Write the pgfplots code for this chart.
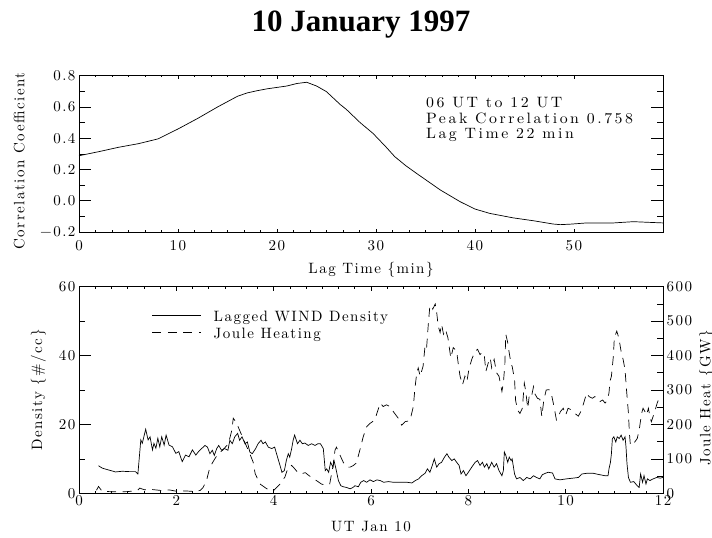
\documentclass[border=0pt]{standalone}
\usepackage{fontspec}
\usepackage{pgfplots}
\pgfplotsset{compat=1.18}
\newfontfamily\hfont{lmroman10-regular.otf}[LetterSpace=10]
\newfontfamily\hwfont{lmroman10-regular.otf}[LetterSpace=17, FakeStretch=1.055]
\newfontfamily\titlefont{Liberation Serif}
\newcommand\hf{\hfont\fontsize{15}{18}\selectfont}
\newcommand\hwf{\hwfont\fontsize{15}{18}\selectfont}

\pgfplotsset{
  idl/.style={
    scale only axis, anchor=south west,
    tick align=inside,
    axis line style={black, line width=0.8pt},
    every tick/.style={black, line width=0.6pt},
    ticklabel style={font=\hf},
    /pgf/number format/assume math mode=true,
    label style={font=\hf},
    clip=false,
  }
}

\begin{document}
\begin{tikzpicture}
\useasboundingbox (0pt,0pt) rectangle (712pt,538pt);
\node[font=\titlefont\bfseries\fontsize{31}{36}\selectfont, anchor=base] at (361pt,506pt) {10 January 1997};

% ---------------- top panel ----------------
\begin{axis}[idl,
  at={(79pt,306pt)}, width=584pt, height=156.3pt,
  xmin=0, xmax=59, ymin=-0.2, ymax=0.8,
  xtick={0,10,20,30,40,50}, minor x tick num=5,
  ytick={-0.2,0,0.2,0.4,0.6,0.8},
  yticklabels={−0.2,0.0,0.2,0.4,0.6,0.8},
  minor y tick num=1,
  xtick style={/pgfplots/major tick length=3.1pt, /pgfplots/minor tick length=1.6pt},
  ytick style={/pgfplots/major tick length=11.7pt, /pgfplots/minor tick length=5.8pt},
  xticklabel style={yshift=-5pt},
  xlabel={Lag Time \{min\}},
  xlabel style={at={(rel axis cs:0.5,-0.264)}, anchor=base},
  ylabel={Correlation Coefficient},
  ylabel style={at={(rel axis cs:-0.1024,0.454)}, anchor=center},
]
\addplot[black, line width=0.7pt] coordinates {
(0,0.288) (2,0.314) (4,0.342) (6,0.365) (8,0.396) (10,0.459) (12,0.527)
(14,0.600) (16,0.668) (17,0.690) (18,0.704) (19,0.716) (20,0.725) (21,0.734)
(22,0.750) (23,0.758) (24,0.734) (25,0.698) (26.4,0.615) (27,0.585)
(28.4,0.500) (29.7,0.431) (31,0.345) (31.9,0.282) (33,0.225) (34.1,0.175)
(36.5,0.069) (38.5,-0.006) (40,-0.053) (41.5,-0.081) (43.9,-0.110)
(45.9,-0.128) (47.9,-0.149) (48.6,-0.153) (49.6,-0.150) (51.3,-0.142)
(54,-0.142) (56,-0.134) (59,-0.142)
};
\node[font=\hwf, anchor=base west, inner sep=0pt] at (rel axis cs:0.594,0.795) {06 UT to 12 UT};
\node[font=\hwf, anchor=base west, inner sep=0pt] at (rel axis cs:0.594,0.6955) {Peak Correlation 0.758};
\node[font=\hwf, anchor=base west, inner sep=0pt] at (rel axis cs:0.594,0.5995) {Lag Time 22 min};
\end{axis}

% ---------------- bottom panel, left axis ----------------
\begin{axis}[idl,
  at={(79pt,44.7pt)}, width=584pt, height=206.6pt,
  xmin=0, xmax=12, ymin=0, ymax=60,
  xtick={0,2,4,6,8,10,12}, minor x tick num=5,
  ytick={0,20,40,60}, minor y tick num=1,
  ytick pos=left,
  xtick style={/pgfplots/major tick length=4.1pt, /pgfplots/minor tick length=2pt},
  ytick style={/pgfplots/major tick length=11.7pt, /pgfplots/minor tick length=5.8pt},
  xticklabel style={yshift=1pt},
  xlabel={UT Jan 10},
  xlabel style={at={(rel axis cs:0.5,-0.1825)}, anchor=base},
  ylabel={Density \{\#/cc\}},
  ylabel style={at={(rel axis cs:-0.0697,0.5)}, anchor=center},
]
\addplot[black, line width=0.7pt] coordinates {
(0.40,8.0) (0.48,7.3) (0.60,6.8) (0.68,6.5) (0.75,6.2) (0.89,6.4) (1.03,6.3)
(1.16,6.3) (1.21,5.6) (1.27,15.5) (1.30,14.5) (1.37,18.6) (1.42,15.5)
(1.46,16.4) (1.51,12.6) (1.54,14.5) (1.58,13.1) (1.62,16.0) (1.66,13.5)
(1.70,16.4) (1.75,14.0) (1.79,16.9) (1.85,14.0) (1.92,13.5) (1.99,11.6)
(2.05,12.1) (2.12,9.2) (2.19,11.1) (2.26,10.6) (2.33,12.6) (2.40,11.1)
(2.45,12.0) (2.52,13.0) (2.59,13.9) (2.64,13.4) (2.69,11.5) (2.74,12.5)
(2.78,11.0) (2.83,13.0) (2.87,13.9) (2.93,12.5) (2.99,13.0) (3.06,12.5)
(3.10,15.4) (3.15,14.4) (3.20,16.4) (3.26,17.4) (3.30,15.4) (3.35,16.4)
(3.41,14.4) (3.46,14.9) (3.51,12.0) (3.56,11.5) (3.63,13.0) (3.68,14.4)
(3.74,15.4) (3.78,14.4) (3.83,14.9) (3.89,13.4) (3.96,13.0) (4.02,13.4)
(4.08,10.5) (4.13,8.1) (4.17,6.1) (4.22,6.6) (4.26,9.5) (4.30,11.5)
(4.33,10.5) (4.37,13.0) (4.40,15.4) (4.43,16.9) (4.49,14.4) (4.54,15.4)
(4.59,14.4) (4.64,14.6) (4.71,13.9) (4.78,14.4) (4.85,13.9) (4.91,14.4)
(4.96,14.4) (5.02,13.0) (5.06,6.6) (5.09,7.1) (5.13,6.1) (5.17,9.0)
(5.22,7.6) (5.24,9.5) (5.28,7.1) (5.33,3.7) (5.38,2.2) (5.43,1.9)
(5.50,1.7) (5.57,1.3) (5.63,1.7) (5.67,2.2) (5.74,1.9) (5.79,3.2)
(5.85,3.7) (5.91,3.2) (5.98,3.9) (6.05,3.4) (6.12,3.9) (6.19,3.7)
(6.26,3.2) (6.36,3.4) (6.46,3.2) (6.60,3.2) (6.74,3.2) (6.84,3.0)
(6.91,3.7) (6.98,4.2) (7.04,5.1) (7.11,5.8) (7.16,7.1) (7.21,6.1)
(7.26,8.1) (7.30,10.0) (7.35,7.6) (7.40,8.6) (7.45,9.0) (7.51,10.5)
(7.56,11.5) (7.60,10.5) (7.66,9.5) (7.71,10.0) (7.76,9.0) (7.81,8.1)
(7.85,5.6) (7.90,6.6) (7.95,5.1) (8.00,6.1) (8.07,7.6) (8.14,9.0)
(8.19,9.5) (8.24,8.1) (8.29,9.0) (8.33,7.6) (8.38,8.6) (8.42,7.1)
(8.48,9.0) (8.53,7.6) (8.58,8.6) (8.63,6.6) (8.69,5.1) (8.72,6.6)
(8.74,12.0) (8.77,11.0) (8.81,9.0) (8.84,10.5) (8.88,9.5) (8.90,10.0)
(8.95,5.6) (8.99,4.2) (9.06,4.6) (9.13,3.7) (9.20,4.6) (9.27,4.2)
(9.34,5.1) (9.40,4.6) (9.47,4.2) (9.52,5.4) (9.58,5.8) (9.64,6.1)
(9.73,5.9) (9.78,4.2) (9.88,3.9) (10.02,4.2) (10.15,4.4) (10.26,4.6)
(10.33,5.6) (10.43,5.8) (10.57,5.8) (10.70,5.4) (10.81,5.1) (10.87,5.1)
(10.89,7.1) (10.92,9.0) (10.94,11.5) (10.96,15.9) (10.99,16.4) (11.03,14.9)
(11.06,16.4) (11.10,15.9) (11.14,16.9) (11.18,15.4) (11.22,16.4) (11.24,13.4)
(11.26,8.6) (11.29,4.6) (11.33,3.2) (11.40,3.4) (11.47,2.2) (11.51,1.7)
(11.54,5.6) (11.58,3.2) (11.61,5.1) (11.65,2.7) (11.68,4.2) (11.73,3.7)
(11.80,4.2) (11.87,4.6) (11.94,4.4) (12.00,4.6)
};
\end{axis}

% ---------------- bottom panel, right axis ----------------
\begin{axis}[idl,
  at={(79pt,44.7pt)}, width=584pt, height=206.6pt,
  xmin=0, xmax=12, ymin=0, ymax=600,
  axis x line=none, axis y line*=right,
  ytick={0,100,200,300,400,500,600}, minor y tick num=1,
  ytick style={/pgfplots/major tick length=11.7pt, /pgfplots/minor tick length=5.8pt},
  ylabel={Joule Heat \{GW\}},
  ylabel style={at={(rel axis cs:1.0745,0.461)}, anchor=center, rotate=0},
  legend style={at={(rel axis cs:0.125,0.8814)}, anchor=north west,
    draw=none, fill=none, inner sep=0pt, outer sep=0pt,
    column sep=12pt, row sep=0pt, font=\hf,
    nodes={inner sep=0pt, text height=10.5pt, text depth=6.1pt}},
  legend cell align=left,
  legend image code/.code={\draw[#1] (0pt,4pt) -- (49pt,4pt);},
]
\addlegendimage{black, line width=0.7pt}
\addlegendentry{Lagged WIND Density}
\addplot[black, line width=0.7pt, dash pattern=on 9pt off 6.5pt] coordinates {
(0.36,9) (0.40,20) (0.48,5) (0.60,5) (0.80,4) (1.00,5) (1.20,8) (1.25,15)
(1.35,10) (1.50,11) (1.70,8) (1.85,10) (2.00,6) (2.15,7) (2.30,6) (2.49,8)
(2.55,17) (2.62,37) (2.69,76) (2.79,100) (2.86,115) (2.95,125) (3.07,144)
(3.14,183) (3.17,218) (3.21,210) (3.24,203) (3.27,193) (3.40,150) (3.50,118)
(3.58,90) (3.62,57) (3.72,27) (3.86,13) (4.00,8) (4.13,27) (4.23,47)
(4.30,76) (4.37,81) (4.44,70) (4.51,58) (4.58,57) (4.65,60) (4.72,52)
(4.82,42) (4.90,35) (4.98,27) (5.05,24) (5.15,26) (5.22,80) (5.26,125)
(5.29,134) (5.35,115) (5.43,90) (5.50,76) (5.57,76) (5.64,81) (5.70,88)
(5.77,125) (5.84,164) (5.91,193) (5.98,203) (6.08,213) (6.12,232) (6.19,262)
(6.25,252) (6.32,257) (6.39,252) (6.46,237) (6.56,218) (6.63,198) (6.70,208)
(6.80,211) (6.87,252) (6.90,301) (6.94,350) (6.97,364) (7.01,340) (7.07,369)
(7.11,427) (7.14,418) (7.18,496) (7.21,545) (7.25,545) (7.27,535) (7.32,550)
(7.35,525) (7.38,486) (7.42,467) (7.45,491) (7.49,462) (7.53,476) (7.58,452)
(7.60,432) (7.64,393) (7.69,423) (7.76,413) (7.79,379) (7.83,340) (7.88,315)
(7.93,340) (7.97,325) (8.01,359) (8.07,389) (8.14,413) (8.19,418) (8.24,403)
(8.29,410) (8.33,398) (8.36,354) (8.41,379) (8.45,393) (8.48,364) (8.53,389)
(8.58,350) (8.63,340) (8.69,296) (8.72,320) (8.75,374) (8.77,462) (8.81,437)
(8.84,408) (8.88,374) (8.90,369) (8.95,330) (8.97,271) (9.01,242) (9.06,232)
(9.11,247) (9.15,320) (9.18,296) (9.22,247) (9.25,281) (9.29,276) (9.34,310)
(9.37,288) (9.42,276) (9.47,273) (9.51,223) (9.55,270) (9.60,300) (9.66,301)
(9.71,286) (9.76,252) (9.81,213) (9.85,221) (9.89,237) (9.95,247) (10.00,227)
(10.05,247) (10.12,242) (10.19,232) (10.26,224) (10.31,237) (10.36,257)
(10.43,291) (10.48,281) (10.55,276) (10.60,281) (10.65,271) (10.70,266)
(10.76,271) (10.81,262) (10.85,269) (10.89,291) (10.91,325) (10.94,340)
(10.98,398) (11.00,452) (11.05,471) (11.08,457) (11.11,437) (11.15,403)
(11.18,389) (11.22,359) (11.25,301) (11.29,232) (11.31,174) (11.33,139)
(11.37,144) (11.42,149) (11.47,159) (11.51,183) (11.56,232) (11.59,247)
(11.63,237) (11.66,227) (11.70,247) (11.73,223) (11.76,208) (11.83,237)
(11.88,262) (11.92,276)
};
\addlegendentry{Joule Heating}
\end{axis}
\end{tikzpicture}
\end{document}
